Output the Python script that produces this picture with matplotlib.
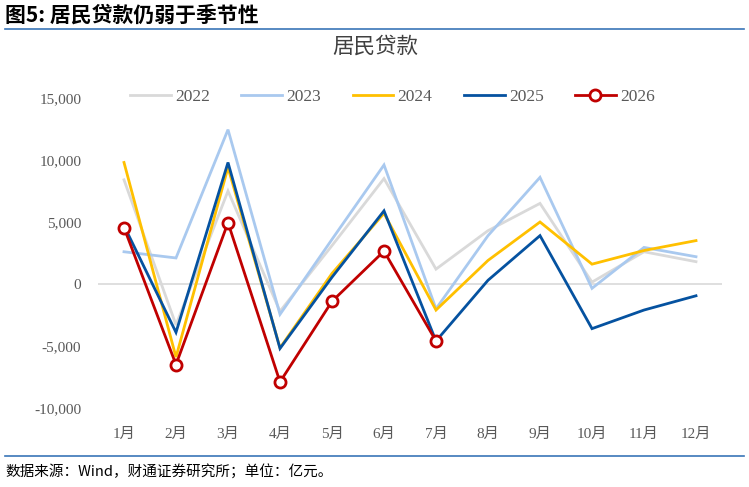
import matplotlib

matplotlib.use("Agg")
import matplotlib.pyplot as plt
from matplotlib.lines import Line2D

plt.rcParams["font.family"] = ["Liberation Serif", "Noto Sans CJK SC", "DejaVu Sans"]

MONTHS = ["1月", "2月", "3月", "4月", "5月", "6月", "7月", "8月", "9月", "10月", "11月", "12月"]
Y2022 = [8400, -3300, 7500, -2200, 3100, 8500, 1200, 4300, 6500, 150, 2600, 1800]
Y2023 = [2600, 2100, 12450, -2450, 3600, 9600, -2000, 3900, 8600, -350, 2950, 2200]
Y2024 = [9800, -5900, 9400, -5150, 850, 5700, -2100, 1900, 5000, 1600, 2700, 3500]
Y2025 = [4700, -3900, 9800, -5200, 550, 5900, -4600, 300, 3900, -3600, -2100, -950]
Y2026 = [4550, -6500, 4950, -7900, -1400, 2650, -4600]
YTICKS = [-10000, -5000, 0, 5000, 10000, 15000]

SERIES = [
    ("2022", Y2022, "#d9d9d9"),
    ("2023", Y2023, "#a9c9ef"),
    ("2024", Y2024, "#ffc000"),
    ("2025", Y2025, "#0552a0"),
]

fig = plt.figure(figsize=(7.49, 4.87), dpi=100)
ax = fig.add_axes([98 / 749, 1 - 408 / 487, 624 / 749, 310 / 487])

x = list(range(len(MONTHS)))
for name, vals, color in SERIES:
    ax.plot(x[:len(vals)], vals, color=color, lw=2.0, label=name, solid_joinstyle="miter")
ax.plot(x[:len(Y2026)], Y2026, color="#c00000", lw=2.0, marker="o", ms=8,
        mfc="white", mec="#c00000", mew=2.0, label="2026", zorder=5)

ax.axhline(0, color="#d9d9d9", lw=1.2, zorder=0)
ax.set_xlim(-0.5, len(MONTHS) - 0.5)
ax.set_ylim(-10000, 15000)
ax.set_yticks(YTICKS, [f"{v:,}" for v in YTICKS])
ax.set_xticks(x, MONTHS)
ax.tick_params(length=0, labelsize=11, labelcolor="#595959")
ax.tick_params(axis="x", pad=14)
ax.tick_params(axis="y", pad=12)
for s in ax.spines.values():
    s.set_visible(False)

ax.legend(loc="upper center", bbox_to_anchor=(0.472, 1.08), ncol=5, frameon=False,
          fontsize=12.5, handlelength=2.35, columnspacing=1.8, handletextpad=0.25,
          labelcolor="#595959")

fig.text(375 / 749, 1 - 47 / 487, "居民贷款", ha="center", va="center", fontsize=15.5,
         color="#404040", family=["Noto Sans CJK SC"])
fig.text(5 / 749, 1 - 15 / 487, "图5: 居民贷款仍弱于季节性", ha="left", va="center",
         fontsize=15, fontweight="bold", family=["Noto Sans CJK SC"])
fig.text(5 / 749, 1 - 472 / 487, "数据来源：Wind，财通证券研究所；单位：亿元。", ha="left",
         va="center", fontsize=10.5, family=["Noto Sans CJK SC"])
fig.add_artist(Line2D([5 / 749, 744 / 749], [1 - 29 / 487] * 2, color="#3a75b8", lw=1.2))
fig.add_artist(Line2D([5 / 749, 744 / 749], [1 - 456 / 487] * 2, color="#3a75b8", lw=1.2))

fig.savefig("out.png", dpi=100)
